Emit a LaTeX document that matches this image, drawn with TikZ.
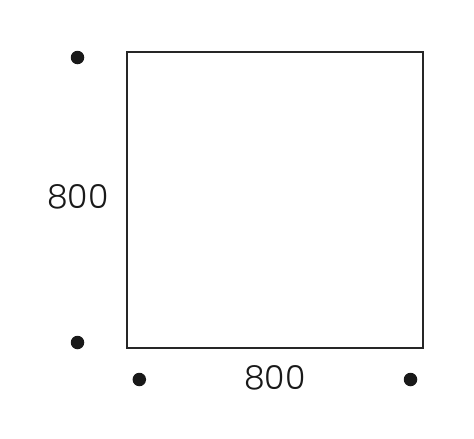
\documentclass[tikz,border=0pt]{standalone}
\usepackage{fontspec}
\setmainfont{Poppins}[UprightFont=* Light]
\begin{document}
\begin{tikzpicture}[x=1pt,y=-1pt,
  dot/.style={circle,fill=black!90,inner sep=0pt,minimum size=13.5pt},
  lbl/.style={font=\fontsize{33}{36}\selectfont,inner sep=0pt,text=black!90},
  box/.style={draw=black!85,line width=1.8pt}]
\useasboundingbox (0,0) rectangle (474,439);
\node[box,minimum width=296pt,minimum height=296pt,inner sep=0pt] (sq) at (275,200) {};
\node[dot] (d1) at (77.5,57.5) {};
\node[dot] (d2) at (77.5,342.5) {};
\node[dot] (d3) at (139.3,379.5) {};
\node[dot] (d4) at (410.5,379.5) {};
\node[lbl] (lv) at (78,196.5) {800};
\node[lbl] (lh) at (275,377.5) {800};
\end{tikzpicture}
\end{document}
